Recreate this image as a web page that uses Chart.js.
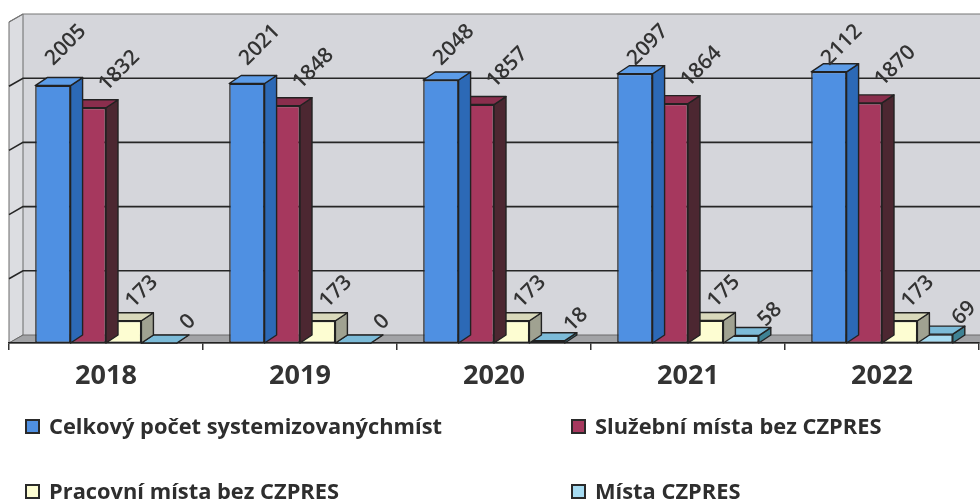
<!DOCTYPE html>
<html>
<head>
<meta charset="utf-8">
<script src="https://cdn.jsdelivr.net/npm/chart.js@4.4.0/dist/chart.umd.min.js"></script>
<style>
  html, body { margin: 0; padding: 0; background: #fff; }
  #wrap { position: relative; width: 980px; height: 503px; overflow: hidden; }
  #myChart { position: absolute; left: 0; top: 0; }
  .legend-box { position: absolute; width: 11px; height: 11px; border: 2px solid #2a2a2a; }
  .legend-text {
    position: absolute; font-family: "Open Sans"; font-weight: 700; font-size: 21px;
    line-height: 20px; color: #2e2e2e; white-space: nowrap; transform-origin: left center;
  }
</style>
</head>
<body>
<div id="wrap">
  <canvas id="myChart" width="980" height="503"></canvas>
</div>
<script>
const categories = ["2018", "2019", "2020", "2021", "2022"];
const seriesNames = [
  "Celkový počet systemizovanýchmíst",
  "Služební místa bez CZPRES",
  "Pracovní místa bez CZPRES",
  "Místa CZPRES",
];
const totalPlaces = [2005, 2021, 2048, 2097, 2112];
const servicePlaces = [1832, 1848, 1857, 1864, 1870];
const workPlaces = [173, 173, 173, 175, 173];
const czpresPlaces = [0, 0, 18, 58, 69];
const gridValues = [0, 500, 1000, 1500, 2000, 2500];

// front / top / side colours of the 3d bars
const faceColors = [
  { front: "#4f90e2", top: "#5c9ce8", side: "#2c69b6" },
  { front: "#a6385e", top: "#8a2e4d", side: "#4c2731" },
  { front: "#fdfdd2", top: "#d9d9bb", side: "#a0a291" },
  { front: "#a7dcf2", top: "#7cbbd8", side: "#3f8294" },
];
// label centre offset from bar front-top centre
const labelOffsets = [
  { dx: 13, dy: -42 },
  { dx: 31, dy: -37 },
  { dx: 18, dy: -29 },
  { dx: 29, dy: -21 },
];
const DX = 12, DY = -8, WALL_X = 14;

function poly(ctx, pts, fill) {
  ctx.beginPath();
  ctx.moveTo(pts[0][0], pts[0][1]);
  for (let i = 1; i < pts.length; i++) ctx.lineTo(pts[i][0], pts[i][1]);
  ctx.closePath();
  ctx.fillStyle = fill;
  ctx.fill();
  ctx.stroke();
}

const wallsPlugin = {
  id: "walls",
  beforeDraw(chart) {
    const { ctx, chartArea } = chart;
    const y = chart.scales.y;
    const left = chartArea.left, right = chart.width + 2;
    const bottom = y.getPixelForValue(0);
    const top = y.getPixelForValue(gridValues[gridValues.length - 1]);
    ctx.save();
    ctx.fillStyle = "#d5d6db";
    ctx.fillRect(left + WALL_X, top + DY, right - left - WALL_X, bottom - top);
    ctx.strokeStyle = "#6a6a6a";
    ctx.lineWidth = 1;
    poly(ctx, [[left, top], [left + WALL_X, top + DY], [left + WALL_X, bottom + DY], [left, bottom]], "#dcdde1");
    poly(ctx, [[left, bottom], [left + WALL_X, bottom + DY], [right, bottom + DY], [right, bottom]], "#a2a3a6");

    gridValues.forEach((v, i) => {
      if (v === 0) return;
      const yy = y.getPixelForValue(v);
      const last = i === gridValues.length - 1;
      ctx.strokeStyle = last ? "#777" : "#262626";
      ctx.lineWidth = last ? 1.2 : 1.6;
      ctx.beginPath();
      ctx.moveTo(left, yy);
      ctx.lineTo(left + WALL_X, yy + DY);
      ctx.lineTo(right, yy + DY);
      ctx.stroke();
    });
    ctx.restore();
  },
};

const facesPlugin = {
  id: "faces",
  beforeDatasetDraw(chart, args) {
    const { ctx } = chart;
    const faces = faceColors[args.index];
    ctx.save();
    ctx.strokeStyle = "#222";
    ctx.lineWidth = 1.4;
    ctx.lineJoin = "round";
    args.meta.data.forEach((bar) => {
      const { x, y, base, width } = bar.getProps(["x", "y", "base", "width"], true);
      const l = x - width / 2, r = x + width / 2;
      poly(ctx, [[r, y], [r + DX, y + DY], [r + DX, base + DY], [r, base]], faces.side);
      poly(ctx, [[l, y], [l + DX, y + DY], [r + DX, y + DY], [r, y]], faces.top);
    });
    ctx.restore();
  },
};

const labelsPlugin = {
  id: "rotatedLabels",
  afterDatasetsDraw(chart) {
    const { ctx } = chart;
    ctx.save();
    ctx.font = "600 21px 'Open Sans'";
    ctx.fillStyle = "#333";
    ctx.textAlign = "center";
    ctx.textBaseline = "middle";
    chart.data.datasets.forEach((ds, i) => {
      const meta = chart.getDatasetMeta(i);
      const off = labelOffsets[i];
      meta.data.forEach((bar, j) => {
        const { x, y } = bar.getProps(["x", "y"], true);
        const cx = x + off.dx;
        const cy = Math.max(y + off.dy, 45);
        ctx.save();
        ctx.translate(cx, cy);
        ctx.rotate(-Math.PI / 4);
        ctx.fillText(String(ds.data[j]), 0, 0);
        ctx.restore();
      });
    });
    ctx.restore();
  },
};

const seriesValues = [totalPlaces, servicePlaces, workPlaces, czpresPlaces];

const ctx = document.getElementById("myChart");
const myChart = new Chart(ctx, {
  type: "bar",
  data: {
    labels: categories,
    datasets: seriesValues.map((values, i) => ({
      label: seriesNames[i],
      data: values,
      backgroundColor: faceColors[i].front,
      borderColor: "#222",
      borderWidth: 1.5,
      borderSkipped: false,
      categoryPercentage: 0.73,
      barPercentage: 1,
    })),
  },
  options: {
    responsive: false,
    animation: false,
    events: [],
    layout: { padding: { left: 9, right: 1, top: 22, bottom: 103 } },
    plugins: { legend: { display: false }, tooltip: { enabled: false } },
    scales: {
      x: {
        grid: {
          display: true,
          drawOnChartArea: false,
          drawTicks: true,
          tickLength: 7,
          color: "#333",
          lineWidth: 1.5,
          offset: true,
        },
        border: { color: "#222", width: 1.5 },
        ticks: {
          font: { family: "Open Sans", weight: "bold", size: 27 },
          color: "#333",
          padding: 10,
        },
        afterFit(scale) {
          scale.height = 57;
        },
      },
      y: { display: false, min: 0, max: 2500 },
    },
  },
  plugins: [wallsPlugin, facesPlugin, labelsPlugin],
});

// legend in two columns under the plot
const legendSlots = [
  { box: [25, 419], text: [49, 416] },
  { box: [571, 419], text: [595, 416] },
  { box: [25, 484], text: [49, 481] },
  { box: [571, 484], text: [595, 481] },
];
const wrap = document.getElementById("wrap");
const texts = seriesNames.map((name, i) => {
  const slot = legendSlots[i];
  const box = document.createElement("div");
  box.className = "legend-box";
  box.style.left = slot.box[0] + "px";
  box.style.top = slot.box[1] + "px";
  box.style.background = faceColors[i].front;
  wrap.appendChild(box);
  const span = document.createElement("div");
  span.className = "legend-text";
  span.textContent = name;
  span.style.left = slot.text[0] + "px";
  span.style.top = slot.text[1] + "px";
  wrap.appendChild(span);
  return span;
});
const squeeze = 393 / texts[0].getBoundingClientRect().width;
texts.forEach((t) => (t.style.transform = `scaleX(${squeeze})`));
</script>
</body>
</html>
